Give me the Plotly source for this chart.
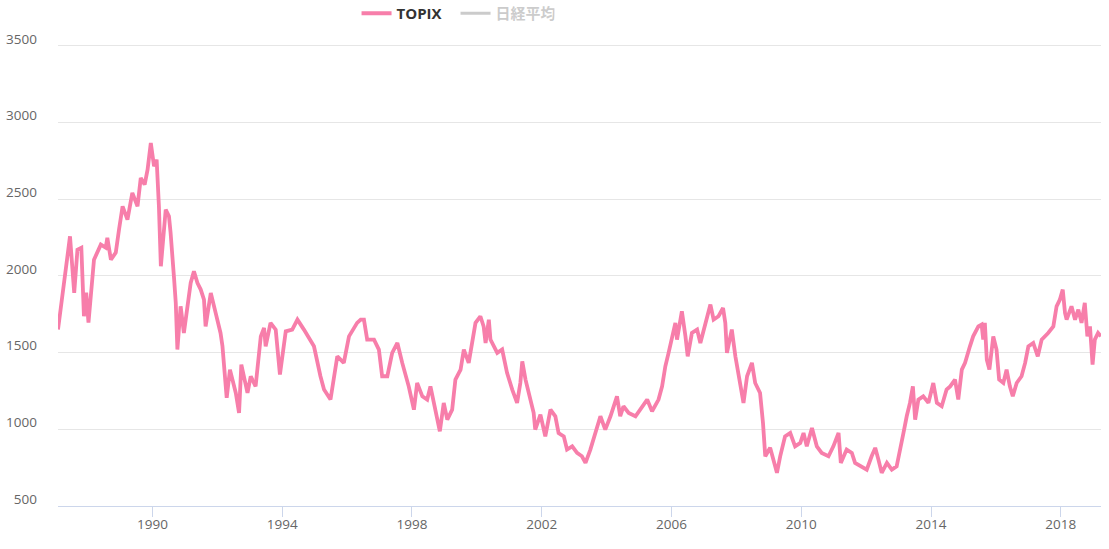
import plotly.graph_objects as go
import pandas as pd

# TOPIX values (decimal year, index level)
topix_year = [
    1987.09, 1987.23, 1987.33, 1987.46, 1987.59, 1987.69, 1987.81, 1987.89, 1987.96, 1988.03,
    1988.20, 1988.41, 1988.56, 1988.61, 1988.72, 1988.87, 1988.97, 1989.08, 1989.23, 1989.38,
    1989.54, 1989.64, 1989.76, 1989.85, 1989.95, 1990.05, 1990.13, 1990.20, 1990.26, 1990.41,
    1990.51, 1990.56, 1990.67, 1990.72, 1990.77, 1990.87, 1990.97, 1991.08, 1991.18, 1991.28,
    1991.39, 1991.49, 1991.59, 1991.64, 1991.80, 1991.95, 1992.10, 1992.16, 1992.29, 1992.39,
    1992.57, 1992.67, 1992.74, 1992.93, 1993.03, 1993.18, 1993.34, 1993.44, 1993.49, 1993.64,
    1993.80, 1993.93, 1994.11, 1994.31, 1994.47, 1994.67, 1994.98, 1995.18, 1995.29, 1995.49,
    1995.59, 1995.70, 1995.90, 1996.06, 1996.31, 1996.42, 1996.52, 1996.62, 1996.83, 1996.98,
    1997.08, 1997.24, 1997.39, 1997.55, 1997.70, 1997.90, 1998.06, 1998.16, 1998.32, 1998.47,
    1998.57, 1998.73, 1998.86, 1998.98, 1999.09, 1999.24, 1999.34, 1999.50, 1999.60, 1999.75,
    1999.86, 1999.96, 2000.11, 2000.21, 2000.27, 2000.37, 2000.42, 2000.63, 2000.78, 2000.93,
    2001.09, 2001.24, 2001.34, 2001.40, 2001.50, 2001.65, 2001.75, 2001.80, 2001.96, 2002.11,
    2002.27, 2002.42, 2002.52, 2002.68, 2002.78, 2002.94, 2003.09, 2003.24, 2003.35, 2003.50,
    2003.65, 2003.81, 2003.96, 2004.12, 2004.32, 2004.42, 2004.52, 2004.68, 2004.89, 2005.09,
    2005.25, 2005.40, 2005.60, 2005.71, 2005.81, 2005.91, 2006.02, 2006.12, 2006.17, 2006.32,
    2006.43, 2006.50, 2006.63, 2006.79, 2006.89, 2007.04, 2007.20, 2007.30, 2007.45, 2007.59,
    2007.66, 2007.71, 2007.86, 2007.97, 2008.12, 2008.22, 2008.33, 2008.48, 2008.58, 2008.73,
    2008.82, 2008.89, 2009.04, 2009.25, 2009.35, 2009.50, 2009.66, 2009.81, 2009.97, 2010.07,
    2010.17, 2010.33, 2010.48, 2010.63, 2010.84, 2010.99, 2011.15, 2011.22, 2011.40, 2011.56,
    2011.66, 2011.87, 2012.02, 2012.17, 2012.28, 2012.38, 2012.48, 2012.64, 2012.79, 2012.94,
    2013.05, 2013.15, 2013.25, 2013.35, 2013.44, 2013.51, 2013.61, 2013.76, 2013.92, 2014.07,
    2014.18, 2014.33, 2014.48, 2014.59, 2014.74, 2014.84, 2014.95, 2015.05, 2015.20, 2015.30,
    2015.46, 2015.56, 2015.61, 2015.66, 2015.72, 2015.80, 2015.92, 2016.02, 2016.10, 2016.23,
    2016.33, 2016.43, 2016.52, 2016.64, 2016.79, 2016.90, 2017.00, 2017.15, 2017.29, 2017.41,
    2017.61, 2017.77, 2017.87, 2017.97, 2018.06, 2018.13, 2018.18, 2018.33, 2018.44, 2018.54,
    2018.64, 2018.74, 2018.82, 2018.90, 2018.98, 2019.05, 2019.15, 2019.24,
]
topix_value = [
    1650, 1890, 2063, 2258, 1889, 2171, 2184, 1737, 1891, 1695,
    2106, 2204, 2184, 2248, 2106, 2152, 2302, 2454, 2367, 2541,
    2454, 2639, 2595, 2693, 2867, 2715, 2758, 2454, 2063, 2432,
    2389, 2282, 1976, 1824, 1520, 1802, 1628, 1802, 1954, 2030,
    1954, 1911, 1845, 1671, 1889, 1759, 1628, 1541, 1205, 1389,
    1237, 1107, 1422, 1237, 1346, 1280, 1606, 1661, 1541, 1694,
    1650, 1357, 1639, 1650, 1715, 1650, 1541, 1346, 1259, 1194,
    1346, 1476, 1433, 1606, 1694, 1715, 1715, 1585, 1585, 1520,
    1346, 1346, 1498, 1563, 1433, 1280, 1128, 1302, 1215, 1194,
    1280, 1128, 987, 1172, 1063, 1128, 1324, 1389, 1520, 1433,
    1563, 1694, 1737, 1671, 1563, 1715, 1585, 1498, 1520, 1368,
    1259, 1172, 1302, 1443, 1324, 1194, 1107, 998, 1096, 954,
    1128, 1085, 976, 954, 868, 889, 846, 824, 781, 868,
    976, 1085, 998, 1085, 1215, 1085, 1150, 1107, 1085, 1150,
    1194, 1118, 1194, 1280, 1411, 1498, 1606, 1694, 1585, 1769,
    1606, 1476, 1628, 1650, 1563, 1694, 1813, 1715, 1737, 1791,
    1694, 1498, 1650, 1476, 1302, 1172, 1346, 1433, 1302, 1237,
    1041, 824, 880, 716, 824, 954, 976, 889, 911, 976,
    889, 1009, 889, 846, 824, 889, 976, 781, 868, 846,
    781, 759, 737, 824, 879, 802, 716, 781, 737, 759,
    889, 976, 1085, 1172, 1280, 1063, 1194, 1215, 1172, 1302,
    1172, 1150, 1259, 1280, 1324, 1194, 1389, 1433, 1541, 1606,
    1671, 1683, 1585, 1694, 1454, 1389, 1606, 1520, 1324, 1302,
    1389, 1280, 1215, 1302, 1346, 1433, 1541, 1563, 1476, 1585,
    1628, 1671, 1802, 1845, 1911, 1759, 1715, 1802, 1715, 1780,
    1694, 1824, 1606, 1671, 1422, 1585, 1628, 1606,
]

# Nikkei series is hidden in the reference (legend only): no values are shown
nikkei_x = [None]
nikkei_value = [None]

y_ticks = [500, 1000, 1500, 2000, 2500, 3000, 3500]
x_tick_years = [1990, 1994, 1998, 2002, 2006, 2010, 2014, 2018]


def to_date(y):
    yr = int(y)
    start = pd.Timestamp(year=yr, month=1, day=1)
    end = pd.Timestamp(year=yr + 1, month=1, day=1)
    return start + (end - start) * (y - yr)


topix_x = [to_date(v) for v in topix_year]

fig = go.Figure()
fig.add_trace(go.Scatter(
    x=topix_x, y=topix_value, mode="lines", name="<b>TOPIX</b>",
    line=dict(color="#F77EAA", width=3.8), hoverinfo="x+y",
))
fig.add_trace(go.Scatter(
    x=nikkei_x, y=nikkei_value, mode="lines",
    name='<b><span style="color:#999999">日経平均</span></b>',
    line=dict(color="#999999", width=3), visible="legendonly",
))

fig.update_layout(
    width=1109, height=549,
    margin=dict(l=58, r=8, t=44, b=43, autoexpand=False),
    paper_bgcolor="white", plot_bgcolor="white",
    font=dict(family="Open Sans, Noto Sans CJK JP, sans-serif", color="#666666", size=13),
    showlegend=True,
    legend=dict(
        orientation="h", xref="container", yref="container",
        x=0.3215, xanchor="left", y=1 - 13.5 / 549, yanchor="middle",
        font=dict(size=15, color="#333333", family="Open Sans, Noto Sans CJK JP, sans-serif"),
        bgcolor="rgba(0,0,0,0)", itemwidth=30, entrywidth=54,
    ),
    xaxis=dict(
        type="date",
        range=[to_date(1987.09), to_date(2019.24)],
        tickvals=[pd.Timestamp(year=y, month=1, day=1) for y in x_tick_years],
        ticktext=[str(y) for y in x_tick_years],
        showgrid=False, showline=True, linecolor="#ccd6eb", linewidth=1,
        ticks="outside", ticklen=10, tickcolor="#ccd6eb", tickwidth=1,
        tickfont=dict(size=13.5, color="#666666"),
        ticklabelstandoff=-4,
        zeroline=False,
    ),
    yaxis=dict(
        range=[500, 3512], tickvals=y_ticks,
        showgrid=True, gridcolor="#e6e6e6", gridwidth=1,
        zeroline=False, showline=False, ticks="",
        tickfont=dict(size=13.5, color="#666666"),
        ticklabelstandoff=20, ticklabelshift=-7,
    ),
)

fig.write_html("out.html")
